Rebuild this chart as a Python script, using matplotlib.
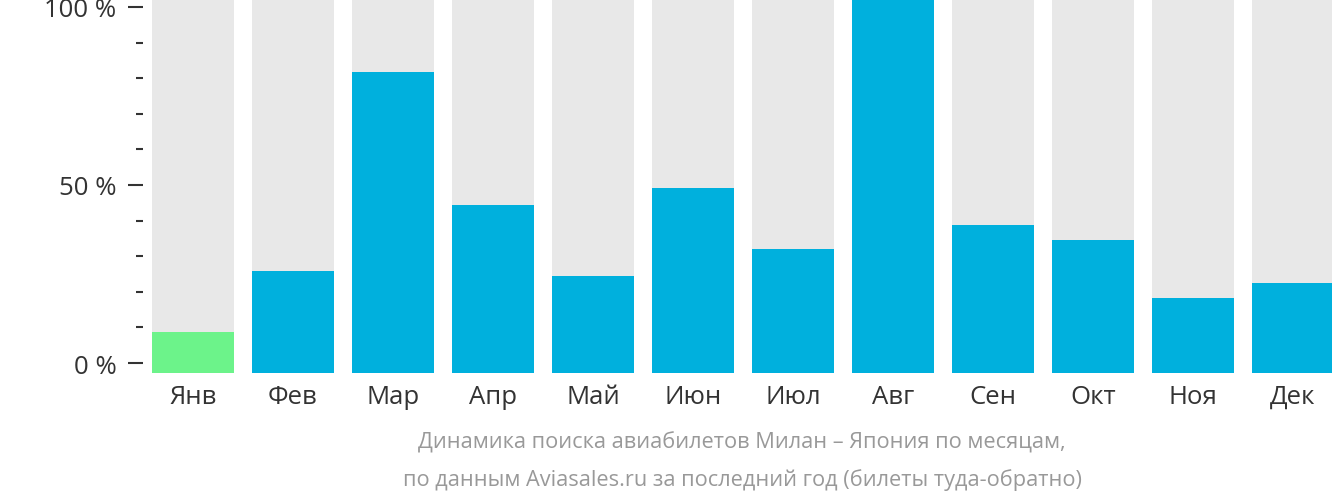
import numpy as np
import matplotlib
matplotlib.use('Agg')
import matplotlib.pyplot as plt
from matplotlib.ticker import MultipleLocator, FuncFormatter

# Search share by month, percent of the busiest month
months = ['Янв', 'Фев', 'Мар', 'Апр', 'Май', 'Июн', 'Июл', 'Авг', 'Сен', 'Окт', 'Ноя', 'Дек']
values = [11.0, 27.3, 80.5, 44.9, 25.9, 49.5, 33.2, 100.0, 39.6, 35.6, 20.1, 24.1]
highlight = 'Янв'
caption = ['Динамика поиска авиабилетов Милан – Япония по месяцам,',
           'по данным Aviasales.ru за последний год (билеты туда-обратно)']

plt.rcParams['font.family'] = ['Open Sans', 'DejaVu Sans']

W, H = 1332, 502
fig = plt.figure(figsize=(W / 100, H / 100), dpi=100)

# Bars
left_px, bottom_px, top_px = 143, 374, 0
ax = fig.add_axes([left_px / W, (H - bottom_px) / H, (W - left_px) / W, (bottom_px - top_px) / H])
x = np.arange(len(months))
colors = ['#6cf38a' if m == highlight else '#00b0dd' for m in months]
ax.bar(x, [100] * len(months), width=0.82, color='#e8e8e8')
ax.bar(x, values, width=0.82, color=colors)
ax.set_xlim(-0.5, -0.5 + (W - left_px) / 100)
ax.set_ylim(0, 100)
for s in ax.spines.values():
    s.set_visible(False)
ax.set_yticks([])
ax.set_xticks(x)
ax.set_xticklabels(months, fontsize=18.5, color='#333333')
ax.tick_params(axis='x', length=0, pad=8)

# Percent scale
tax = fig.add_axes([left_px / W, (H - 364) / H, 0.001, (364 - 8) / H])
tax.set_ylim(0, 100)
tax.patch.set_visible(False)
for s in tax.spines.values():
    s.set_visible(False)
tax.set_xticks([])
tax.yaxis.set_major_locator(MultipleLocator(50))
tax.yaxis.set_minor_locator(MultipleLocator(10))
tax.yaxis.set_major_formatter(FuncFormatter(lambda v, p: f'{int(v)} %'))
tax.tick_params(axis='y', which='major', length=11, width=1.5, pad=8, labelsize=18.5, colors='#333333')
tax.tick_params(axis='y', which='minor', length=5, width=1.5, colors='#333333')

fig.text(742 / W, (H - 443) / H, caption[0], ha='center', va='center', fontsize=15.7, color='#999999')
fig.text(742 / W, (H - 480) / H, caption[1], ha='center', va='center', fontsize=15.7, color='#999999')

fig.savefig('out.png', dpi=100)
